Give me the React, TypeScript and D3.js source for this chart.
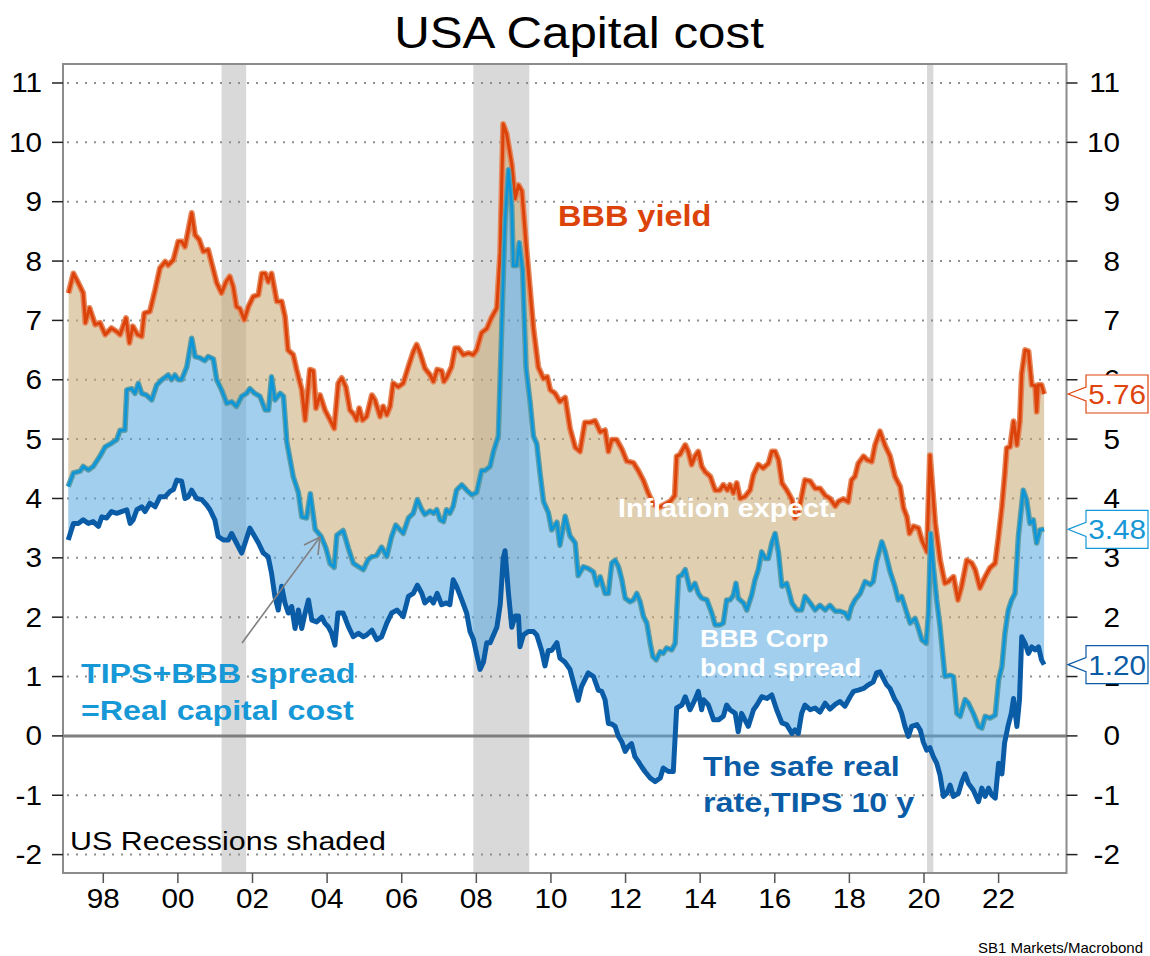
import * as d3 from "d3"

const W = 1150
const H = 956
const FONT = "'Liberation Sans', Arial, sans-serif"
// the source chart's text is a bit wider than plain Arial
const SX = 1.15

// BBB corporate yield, %
const bbbDates = [
  1997.07, 1997.2, 1997.33, 1997.46, 1997.52, 1997.63, 1997.78, 1997.91, 1998.05, 1998.22, 1998.36, 1998.45,
  1998.61, 1998.7, 1998.79, 1998.92, 1999.03, 1999.1, 1999.25, 1999.39, 1999.52, 1999.66, 1999.74, 1999.88,
  2000.01, 2000.1, 2000.19, 2000.28, 2000.37, 2000.46, 2000.57, 2000.68, 2000.81, 2000.95, 2001.04, 2001.17,
  2001.29, 2001.39, 2001.48, 2001.57, 2001.66, 2001.78, 2001.89, 2002.02, 2002.16, 2002.25, 2002.34, 2002.42,
  2002.51, 2002.65, 2002.78, 2002.87, 2002.95, 2003.09, 2003.18, 2003.27, 2003.32, 2003.41, 2003.54, 2003.63,
  2003.7, 2003.81, 2003.94, 2004.08, 2004.19, 2004.3, 2004.39, 2004.5, 2004.61, 2004.72, 2004.79, 2004.86,
  2004.95, 2005.06, 2005.2, 2005.28, 2005.42, 2005.5, 2005.6, 2005.69, 2005.77, 2005.91, 2006.04, 2006.18,
  2006.31, 2006.4, 2006.49, 2006.62, 2006.76, 2006.85, 2006.95, 2007.07, 2007.13, 2007.2, 2007.34, 2007.43,
  2007.52, 2007.65, 2007.79, 2007.92, 2008.01, 2008.14, 2008.28, 2008.41, 2008.55, 2008.64, 2008.72, 2008.81,
  2008.95, 2009.04, 2009.13, 2009.22, 2009.35, 2009.53, 2009.66, 2009.8, 2009.9, 2009.98, 2010.11, 2010.24,
  2010.38, 2010.51, 2010.65, 2010.78, 2010.91, 2011.05, 2011.18, 2011.32, 2011.45, 2011.54, 2011.63, 2011.76,
  2011.9, 2012.03, 2012.21, 2012.34, 2012.48, 2012.6, 2012.75, 2012.9, 2013.05, 2013.2, 2013.32, 2013.37,
  2013.46, 2013.6, 2013.68, 2013.77, 2013.86, 2013.95, 2014.04, 2014.13, 2014.27, 2014.4, 2014.53, 2014.62,
  2014.73, 2014.8, 2014.89, 2014.98, 2015.07, 2015.2, 2015.34, 2015.43, 2015.56, 2015.69, 2015.83, 2015.92,
  2016.01, 2016.1, 2016.19, 2016.32, 2016.46, 2016.54, 2016.63, 2016.72, 2016.81, 2016.95, 2017.08, 2017.21,
  2017.35, 2017.48, 2017.62, 2017.71, 2017.84, 2017.97, 2018.06, 2018.15, 2018.24, 2018.38, 2018.47, 2018.6,
  2018.69, 2018.82, 2018.95, 2019.09, 2019.22, 2019.36, 2019.45, 2019.54, 2019.61, 2019.72, 2019.85, 2019.94,
  2020.08, 2020.16, 2020.3, 2020.43, 2020.56, 2020.65, 2020.79, 2020.91, 2021.01, 2021.15, 2021.28, 2021.37,
  2021.5, 2021.64, 2021.77, 2021.91, 2022.0, 2022.09, 2022.17, 2022.22, 2022.31, 2022.4, 2022.49, 2022.57,
  2022.62, 2022.71, 2022.8, 2022.89, 2022.98, 2023.02, 2023.06, 2023.15, 2023.22,
]
const bbbYield = [
  7.46, 7.79, 7.63, 7.46, 6.96, 7.21, 6.93, 6.96, 6.76, 6.87, 6.81, 6.76,
  7.04, 6.62, 6.9, 6.76, 6.73, 7.12, 7.15, 7.51, 7.88, 7.99, 7.93, 8.02,
  8.33, 8.33, 8.24, 8.52, 8.81, 8.44, 8.36, 8.16, 8.19, 7.85, 7.63, 7.46,
  7.65, 7.74, 7.57, 7.23, 7.2, 7.01, 7.23, 7.4, 7.43, 7.79, 7.79, 7.65,
  7.79, 7.32, 7.32, 7.06, 6.5, 6.42, 6.17, 5.95, 5.83, 5.32, 6.17, 6.15,
  5.52, 5.74, 5.49, 5.32, 5.18, 5.94, 6.03, 5.88, 5.49, 5.41, 5.32, 5.52,
  5.32, 5.38, 5.74, 5.66, 5.38, 5.55, 5.41, 5.55, 5.94, 5.88, 5.94, 6.22,
  6.47, 6.59, 6.45, 6.19, 6.08, 5.97, 6.17, 6.15, 5.97, 6.03, 6.22, 6.53,
  6.53, 6.42, 6.45, 6.42, 6.5, 6.79, 6.86, 7.05, 7.21, 8.15, 10.31, 10.15,
  9.63, 9.05, 9.28, 9.18, 8.15, 6.86, 6.21, 6.02, 6.05, 5.83, 5.77, 5.63,
  5.7, 5.18, 4.86, 4.79, 5.28, 5.28, 5.31, 5.12, 5.15, 4.79, 4.99, 4.99,
  4.83, 4.63, 4.6, 4.47, 4.3, 4.1, 3.9, 3.85, 3.9, 3.95, 4.05, 4.71,
  4.74, 4.9, 4.79, 4.57, 4.71, 4.79, 4.54, 4.45, 4.37, 4.14, 4.14, 4.23,
  4.14, 4.23, 4.09, 4.26, 4.0, 4.03, 4.14, 4.4, 4.57, 4.51, 4.59, 4.79,
  4.79, 4.65, 4.26, 4.14, 3.98, 3.67, 3.75, 4.03, 4.31, 4.29, 4.17, 4.17,
  4.05, 4.0, 3.87, 3.95, 3.99, 3.94, 4.31, 4.37, 4.59, 4.71, 4.65, 4.62,
  4.9, 5.13, 4.9, 4.71, 4.37, 4.2, 3.84, 3.69, 3.41, 3.53, 3.5, 3.3,
  3.1, 4.73, 3.58, 2.96, 2.57, 2.6, 2.68, 2.29, 2.52, 2.96, 2.91, 2.8,
  2.49, 2.68, 2.83, 2.91, 3.36, 3.86, 4.43, 4.85, 4.87, 5.3, 4.9, 5.3,
  6.1, 6.5, 6.48, 5.91, 5.9, 5.46, 5.91, 5.91, 5.76,
]

// TIPS 10y + BBB spread = real capital cost, %
const spreadDates = [
  1997.06, 1997.2, 1997.38, 1997.46, 1997.6, 1997.73, 1997.91, 1998.05, 1998.22, 1998.36, 1998.45, 1998.58,
  1998.63, 1998.76, 1998.85, 1998.94, 1999.03, 1999.16, 1999.3, 1999.43, 1999.57, 1999.74, 1999.83, 1999.92,
  2000.01, 2000.1, 2000.24, 2000.37, 2000.46, 2000.59, 2000.72, 2000.81, 2000.95, 2001.04, 2001.17, 2001.31,
  2001.44, 2001.57, 2001.71, 2001.84, 2001.93, 2002.06, 2002.2, 2002.34, 2002.43, 2002.51, 2002.6, 2002.74,
  2002.83, 2002.92, 2003.09, 2003.23, 2003.32, 2003.45, 2003.55, 2003.68, 2003.84, 2003.97, 2004.08, 2004.19,
  2004.26, 2004.43, 2004.57, 2004.7, 2004.84, 2004.97, 2005.1, 2005.2, 2005.33, 2005.46, 2005.6, 2005.73,
  2005.84, 2006.04, 2006.18, 2006.31, 2006.42, 2006.54, 2006.62, 2006.76, 2006.85, 2006.94, 2007.03, 2007.12,
  2007.2, 2007.29, 2007.38, 2007.47, 2007.61, 2007.74, 2007.88, 2008.01, 2008.14, 2008.23, 2008.37, 2008.46,
  2008.59, 2008.68, 2008.77, 2008.86, 2008.95, 2008.99, 2009.08, 2009.15, 2009.24, 2009.33, 2009.44, 2009.53,
  2009.62, 2009.71, 2009.8, 2009.93, 2010.02, 2010.16, 2010.24, 2010.38, 2010.51, 2010.65, 2010.73, 2010.87,
  2011.0, 2011.14, 2011.23, 2011.32, 2011.45, 2011.54, 2011.63, 2011.72, 2011.81, 2011.9, 2011.99, 2012.12,
  2012.21, 2012.3, 2012.39, 2012.48, 2012.57, 2012.66, 2012.73, 2012.82, 2012.93, 2013.01, 2013.1, 2013.24,
  2013.33, 2013.42, 2013.51, 2013.6, 2013.73, 2013.86, 2013.95, 2014.04, 2014.18, 2014.31, 2014.4, 2014.53,
  2014.62, 2014.71, 2014.8, 2014.89, 2014.96, 2015.02, 2015.16, 2015.25, 2015.38, 2015.47, 2015.56, 2015.65,
  2015.74, 2015.83, 2015.92, 2016.01, 2016.1, 2016.19, 2016.32, 2016.46, 2016.59, 2016.72, 2016.81, 2016.95,
  2017.08, 2017.21, 2017.35, 2017.48, 2017.62, 2017.75, 2017.88, 2017.97, 2018.06, 2018.15, 2018.29, 2018.42,
  2018.56, 2018.64, 2018.73, 2018.87, 2018.96, 2019.09, 2019.22, 2019.31, 2019.4, 2019.54, 2019.63, 2019.76,
  2019.85, 2019.94, 2020.06, 2020.12, 2020.18, 2020.25, 2020.34, 2020.43, 2020.56, 2020.7, 2020.79, 2020.88,
  2020.97, 2021.1, 2021.19, 2021.32, 2021.46, 2021.55, 2021.64, 2021.77, 2021.91, 2022.0, 2022.09, 2022.17,
  2022.26, 2022.35, 2022.44, 2022.53, 2022.66, 2022.75, 2022.84, 2022.93, 2023.02, 2023.11, 2023.22,
]
const realCapitalCost = [
  4.2, 4.43, 4.46, 4.54, 4.48, 4.54, 4.71, 4.87, 4.93, 4.99, 5.15, 5.15,
  5.83, 5.85, 5.77, 5.94, 5.77, 5.74, 5.66, 5.91, 6.0, 6.08, 6.0, 6.08,
  6.0, 6.0, 6.22, 6.7, 6.39, 6.37, 6.32, 6.39, 6.35, 6.0, 5.83, 5.6,
  5.63, 5.55, 5.72, 5.77, 5.85, 5.77, 5.72, 5.49, 5.49, 6.05, 5.66, 5.77,
  5.72, 4.95, 4.37, 4.1, 3.69, 3.67, 4.08, 3.48, 3.36, 3.16, 2.9, 2.84,
  3.38, 3.46, 3.16, 2.91, 2.85, 2.8, 2.97, 3.02, 3.04, 3.18, 3.02, 3.36,
  3.55, 3.41, 3.67, 3.75, 3.98, 3.81, 3.73, 3.79, 3.75, 3.81, 3.64, 3.61,
  3.81, 3.75, 3.87, 4.14, 4.23, 4.14, 4.06, 4.1, 4.47, 4.47, 4.54, 4.79,
  5.05, 6.86, 8.66, 9.54, 8.92, 7.92, 7.92, 8.31, 7.83, 6.21, 5.63, 5.05,
  4.92, 4.41, 3.95, 3.76, 3.47, 3.6, 3.21, 3.7, 3.37, 3.25, 2.7, 2.85,
  2.82, 2.76, 2.54, 2.68, 2.4, 2.4, 2.91, 2.96, 2.85, 2.63, 2.32, 2.26,
  2.29, 2.4, 2.26, 2.01, 1.9, 1.56, 1.34, 1.28, 1.42, 1.39, 1.48, 1.45,
  1.56, 2.68, 2.71, 2.8, 2.46, 2.57, 2.4, 2.32, 2.29, 2.07, 1.87, 1.87,
  1.9, 2.29, 2.29, 2.37, 2.57, 2.32, 2.24, 2.12, 2.37, 2.63, 2.8, 3.1,
  2.99, 2.99, 3.25, 3.41, 3.08, 2.52, 2.57, 2.24, 2.12, 2.12, 2.35, 2.24,
  2.12, 2.2, 2.12, 2.2, 2.1, 2.1, 2.07, 1.98, 2.18, 2.29, 2.4, 2.6,
  2.55, 2.6, 2.94, 3.27, 3.1, 2.77, 2.52, 2.29, 2.35, 2.07, 1.9, 1.98,
  1.81, 1.62, 1.56, 2.07, 3.41, 2.85, 2.29, 1.84, 1.0, 1.02, 1.0, 0.38,
  0.33, 0.61, 0.55, 0.38, 0.16, 0.13, 0.33, 0.3, 0.35, 0.94, 1.17, 1.73,
  2.12, 2.29, 2.4, 3.36, 4.14, 3.98, 3.58, 3.64, 3.25, 3.47, 3.48,
]

// TIPS 10y, the safe real rate, %
const tipsDates = [
  1997.06, 1997.2, 1997.33, 1997.46, 1997.6, 1997.73, 1997.87, 1997.96, 1998.09, 1998.22, 1998.36, 1998.49,
  1998.63, 1998.72, 1998.8, 1998.9, 1999.03, 1999.12, 1999.25, 1999.39, 1999.52, 1999.66, 1999.79, 1999.88,
  1999.97, 2000.1, 2000.19, 2000.28, 2000.37, 2000.5, 2000.64, 2000.77, 2000.86, 2000.99, 2001.08, 2001.22,
  2001.35, 2001.44, 2001.57, 2001.71, 2001.8, 2001.93, 2002.06, 2002.16, 2002.29, 2002.42, 2002.51, 2002.6,
  2002.69, 2002.78, 2002.87, 2002.96, 2003.05, 2003.14, 2003.23, 2003.32, 2003.41, 2003.5, 2003.59, 2003.72,
  2003.86, 2003.94, 2004.03, 2004.12, 2004.21, 2004.29, 2004.43, 2004.57, 2004.7, 2004.84, 2004.97, 2005.06,
  2005.2, 2005.33, 2005.46, 2005.6, 2005.73, 2005.87, 2006.04, 2006.18, 2006.31, 2006.42, 2006.54, 2006.62,
  2006.76, 2006.85, 2006.95, 2007.07, 2007.2, 2007.29, 2007.38, 2007.47, 2007.61, 2007.74, 2007.83, 2007.92,
  2008.01, 2008.1, 2008.19, 2008.28, 2008.37, 2008.46, 2008.55, 2008.64, 2008.72, 2008.77, 2008.86, 2008.95,
  2009.04, 2009.13, 2009.17, 2009.26, 2009.39, 2009.53, 2009.62, 2009.75, 2009.84, 2009.93, 2010.02, 2010.16,
  2010.24, 2010.38, 2010.51, 2010.65, 2010.73, 2010.82, 2011.0, 2011.14, 2011.27, 2011.36, 2011.45, 2011.54,
  2011.63, 2011.72, 2011.81, 2011.9, 2011.99, 2012.07, 2012.16, 2012.25, 2012.34, 2012.43, 2012.52, 2012.66,
  2012.79, 2012.93, 2013.01, 2013.15, 2013.28, 2013.37, 2013.51, 2013.6, 2013.73, 2013.86, 2013.95, 2014.04,
  2014.09, 2014.22, 2014.36, 2014.49, 2014.62, 2014.71, 2014.8, 2014.94, 2015.02, 2015.11, 2015.2, 2015.29,
  2015.43, 2015.52, 2015.65, 2015.79, 2015.92, 2016.05, 2016.19, 2016.32, 2016.46, 2016.54, 2016.63, 2016.72,
  2016.81, 2016.95, 2017.08, 2017.21, 2017.35, 2017.48, 2017.62, 2017.75, 2017.88, 2018.02, 2018.11, 2018.24,
  2018.38, 2018.51, 2018.64, 2018.73, 2018.82, 2018.91, 2019.0, 2019.09, 2019.22, 2019.31, 2019.4, 2019.49,
  2019.58, 2019.67, 2019.81, 2019.9, 2019.98, 2020.07, 2020.16, 2020.25, 2020.34, 2020.43, 2020.52, 2020.61,
  2020.7, 2020.79, 2020.92, 2021.01, 2021.1, 2021.19, 2021.32, 2021.46, 2021.55, 2021.64, 2021.73, 2021.82,
  2021.91, 2022.0, 2022.09, 2022.16, 2022.25, 2022.34, 2022.4, 2022.49, 2022.56, 2022.62, 2022.71, 2022.8,
  2022.89, 2022.98, 2023.07, 2023.15, 2023.22,
]
const tipsReal = [
  3.3, 3.58, 3.58, 3.64, 3.58, 3.61, 3.53, 3.69, 3.67, 3.78, 3.75, 3.78,
  3.81, 3.58, 3.64, 3.81, 3.86, 3.78, 3.92, 3.86, 4.03, 4.03, 4.12, 4.15,
  4.31, 4.29, 4.0, 4.03, 4.14, 4.0, 3.98, 3.89, 3.81, 3.64, 3.36, 3.3,
  3.3, 3.41, 3.25, 3.08, 3.25, 3.5, 3.36, 3.25, 3.08, 3.02, 2.74, 2.35,
  2.12, 2.52, 2.24, 2.07, 2.18, 1.81, 2.12, 1.81, 2.07, 2.29, 1.95, 1.92,
  2.0, 1.9, 1.84, 1.73, 1.53, 2.07, 2.07, 1.84, 1.67, 1.73, 1.67, 1.7,
  1.78, 1.62, 1.67, 1.9, 2.07, 2.12, 2.01, 2.35, 2.4, 2.54, 2.4, 2.24,
  2.32, 2.24, 2.4, 2.21, 2.24, 2.21, 2.63, 2.52, 2.29, 2.07, 1.76, 1.63,
  1.37, 1.12, 1.24, 1.57, 1.57, 1.7, 1.83, 2.21, 2.99, 3.12, 2.41, 1.83,
  2.02, 2.02, 1.5, 1.7, 1.76, 1.76, 1.7, 1.44, 1.18, 1.44, 1.44, 1.57,
  1.31, 1.24, 1.12, 0.79, 0.6, 0.83, 1.06, 1.0, 0.77, 0.75, 0.61, 0.21,
  0.2, 0.16, -0.01, -0.1, -0.26, -0.18, -0.13, -0.35, -0.43, -0.52, -0.6, -0.71,
  -0.77, -0.71, -0.54, -0.6, -0.6, 0.47, 0.52, 0.66, 0.44, 0.61, 0.75, 0.44,
  0.61, 0.52, 0.27, 0.27, 0.33, 0.52, 0.44, 0.38, 0.07, 0.38, 0.27, 0.16,
  0.44, 0.52, 0.66, 0.63, 0.69, 0.44, 0.22, 0.19, 0.04, 0.1, 0.04, 0.38,
  0.52, 0.44, 0.47, 0.4, 0.55, 0.45, 0.53, 0.58, 0.5, 0.66, 0.75, 0.77,
  0.8, 0.86, 0.91, 1.06, 1.08, 0.97, 0.86, 0.8, 0.61, 0.52, 0.38, 0.16,
  -0.01, 0.16, 0.19, 0.1, -0.1, -0.24, -0.2, -0.35, -0.46, -0.66, -1.02, -0.97,
  -0.83, -1.02, -0.97, -0.78, -0.64, -0.8, -0.91, -1.11, -0.88, -1.02, -0.88, -1.0,
  -1.05, -0.46, -0.64, -0.12, 0.16, 0.38, 0.63, 0.16, 0.61, 1.67, 1.56, 1.39,
  1.5, 1.45, 1.5, 1.28, 1.2,
]

// US recessions (NBER), decimal years
const recessionStarts = [2001.17, 2007.92, 2020.08]
const recessionEnds = [2001.83, 2009.42, 2020.25]

const yTicks = [-2, -1, 0, 1, 2, 3, 4, 5, 6, 7, 8, 9, 10, 11]
const xTickYears = [1998, 2000, 2002, 2004, 2006, 2008, 2010, 2012, 2014, 2016, 2018, 2020, 2022]
const xTickLabels = ["98", "00", "02", "04", "06", "08", "10", "12", "14", "16", "18", "20", "22"]

// last values shown in the callouts on the right
const lastLabels = ["5.76", "3.48", "1.20"]
const lastValues = [5.76, 3.48, 1.2]
const lastColors = ["#E0450F", "#1798D6", "#0B5CA6"]

type Pt = [number, number]
const zip = (d: number[], v: number[]): Pt[] => d.map((t, i) => [t, v[i]])

function StretchText({ x, y, size, anchor = "start", weight = "normal", fill = "#000", sx = SX, children }: any) {
  return (
    <text
      transform={`translate(${x},${y}) scale(${sx},1)`}
      fontSize={size}
      fontWeight={weight}
      fontFamily={FONT}
      textAnchor={anchor}
      fill={fill}
    >
      {children}
    </text>
  )
}

export default function App() {
  const left = 63
  const right = 1066.5
  const top = 64
  const bottom = 873

  const x = d3.scaleLinear().domain([1996.92, 2023.82]).range([left, right])
  const y = d3.scaleLinear().domain([-2.31, 11.32]).range([bottom, top])

  const bbb = zip(bbbDates, bbbYield)
  const mid = zip(spreadDates, realCapitalCost)
  const tips = zip(tipsDates, tipsReal)

  const line = d3.line<Pt>().x((d) => x(d[0])).y((d) => y(d[1]))

  // bands between two series: upper forward, lower backward
  const band = (upper: Pt[], lower: Pt[]) => line([...upper, ...lower.slice().reverse()]) + "Z"

  return (
    <svg
      width={W}
      height={H}
      style={{ position: "absolute", left: 0, top: 0, background: "#fff" }}
      fontFamily={FONT}
    >
      <rect x={0} y={0} width={W} height={H} fill="#fff" />

      {/* Recession shading */}
      {recessionStarts.map((s, i) => (
        <rect
          key={"rec" + i}
          x={x(s)}
          y={top}
          width={x(recessionEnds[i]) - x(s)}
          height={bottom - top}
          fill="#D9D9D9"
        />
      ))}

      {/* Grid */}
      {yTicks
        .filter((t) => t !== 0)
        .map((t) => (
          <line
            key={"g" + t}
            x1={left + 4}
            x2={right}
            y1={y(t)}
            y2={y(t)}
            stroke="#8f8f8f"
            strokeWidth={2}
            strokeDasharray="2,7"
          />
        ))}
      <line x1={left} x2={right} y1={y(0)} y2={y(0)} stroke="#7f7f7f" strokeWidth={3} />

      {/* Bands */}
      <path d={band(bbb, mid)} fill="#C7AA71" fillOpacity={0.55} />
      <path d={band(mid, tips)} fill="#58A8E2" fillOpacity={0.55} />

      {/* Lines */}
      <path d={line(bbb)!} fill="none" stroke="#E5875B" strokeWidth={6} strokeLinejoin="round" />
      <path d={line(bbb)!} fill="none" stroke="#DC430A" strokeWidth={3} strokeLinejoin="round" />
      <path d={line(mid)!} fill="none" stroke="#5E9DA6" strokeWidth={5.5} strokeLinejoin="round" />
      <path d={line(mid)!} fill="none" stroke="#0C96DA" strokeWidth={2.6} strokeLinejoin="round" />
      <path d={line(tips)!} fill="none" stroke="#0B5CA6" strokeWidth={5} strokeLinejoin="round" />

      {/* Frame */}
      <rect x={left} y={top} width={right - left} height={bottom - top} fill="none" stroke="#8c8c8c" strokeWidth={2} />

      {/* Y axes */}
      {yTicks.map((t) => (
        <g key={"yt" + t}>
          <line x1={left - 11} x2={left} y1={y(t)} y2={y(t)} stroke="#222" strokeWidth={1.5} />
          <line x1={right} x2={right + 11} y1={y(t)} y2={y(t)} stroke="#222" strokeWidth={1.5} />
          <StretchText x={42} y={y(t) + 9.5} size={27} anchor="end" sx={1.1}>
            {t}
          </StretchText>
          <StretchText x={1120} y={y(t) + 9.5} size={27} anchor="end" sx={1.1}>
            {t}
          </StretchText>
        </g>
      ))}

      {/* X axis */}
      {xTickYears.map((yr, i) => (
        <g key={"xt" + yr}>
          <line x1={x(yr)} x2={x(yr)} y1={bottom} y2={bottom + 10} stroke="#555" strokeWidth={1.5} />
          <StretchText x={x(yr)} y={bottom + 35} size={27} anchor="middle" sx={1.1}>
            {xTickLabels[i]}
          </StretchText>
        </g>
      ))}

      {/* Title */}
      <StretchText x={579} y={48} size={44} anchor="middle" sx={1.12}>
        USA Capital cost
      </StretchText>

      {/* Annotations */}
      <StretchText x={558} y={226} size={29} weight="bold" fill="#DC430A" sx={1.12}>
        BBB yield
      </StretchText>
      <StretchText x={618} y={517} size={25} weight="bold" fill="#fff">
        Inflation expect.
      </StretchText>
      <StretchText x={700} y={647} size={24} weight="bold" fill="#fff" sx={1.12}>
        BBB Corp
      </StretchText>
      <StretchText x={700} y={676} size={24} weight="bold" fill="#fff" sx={1.12}>
        bond spread
      </StretchText>
      <StretchText x={81} y={683} size={28} weight="bold" fill="#1798D6">
        TIPS+BBB spread
      </StretchText>
      <StretchText x={81} y={720} size={28} weight="bold" fill="#1798D6">
        =Real capital cost
      </StretchText>
      <StretchText x={703} y={776} size={28} weight="bold" fill="#0B5CA6">
        The safe real
      </StretchText>
      <StretchText x={703} y={812} size={28} weight="bold" fill="#0B5CA6">
        rate,TIPS 10 y
      </StretchText>
      <StretchText x={70} y={850} size={26} fill="#000" sx={1.17}>
        US Recessions shaded
      </StretchText>

      {/* Arrow to the real capital cost line */}
      <line x1={242} y1={643} x2={320} y2={537} stroke="#808080" strokeWidth={1.6} />
      <polyline points="304,545 320,537 318,555" fill="none" stroke="#808080" strokeWidth={1.6} />

      {/* Last value callouts */}
      {lastValues.map((v, i) => {
        const yy = y(v)
        const bx = 1086
        const bw = 62
        const bh = 19
        const pts = [
          [right + 1.5, yy],
          [bx, yy - 7],
          [bx, yy - bh],
          [bx + bw, yy - bh],
          [bx + bw, yy + bh],
          [bx, yy + bh],
          [bx, yy + 7],
        ]
          .map((p) => p.join(","))
          .join(" ")
        return (
          <g key={"call" + i}>
            <polygon points={pts} fill="#fff" stroke={lastColors[i]} strokeWidth={1.2} />
            <StretchText x={bx + bw - 2} y={yy + 10} size={27} anchor="end" fill={lastColors[i]} sx={1.1}>
              {lastLabels[i]}
            </StretchText>
          </g>
        )
      })}

      {/* Source */}
      <text x={1143} y={953} fontSize={15} fontFamily={FONT} textAnchor="end" fill="#000">
        SB1 Markets/Macrobond
      </text>
    </svg>
  )
}
